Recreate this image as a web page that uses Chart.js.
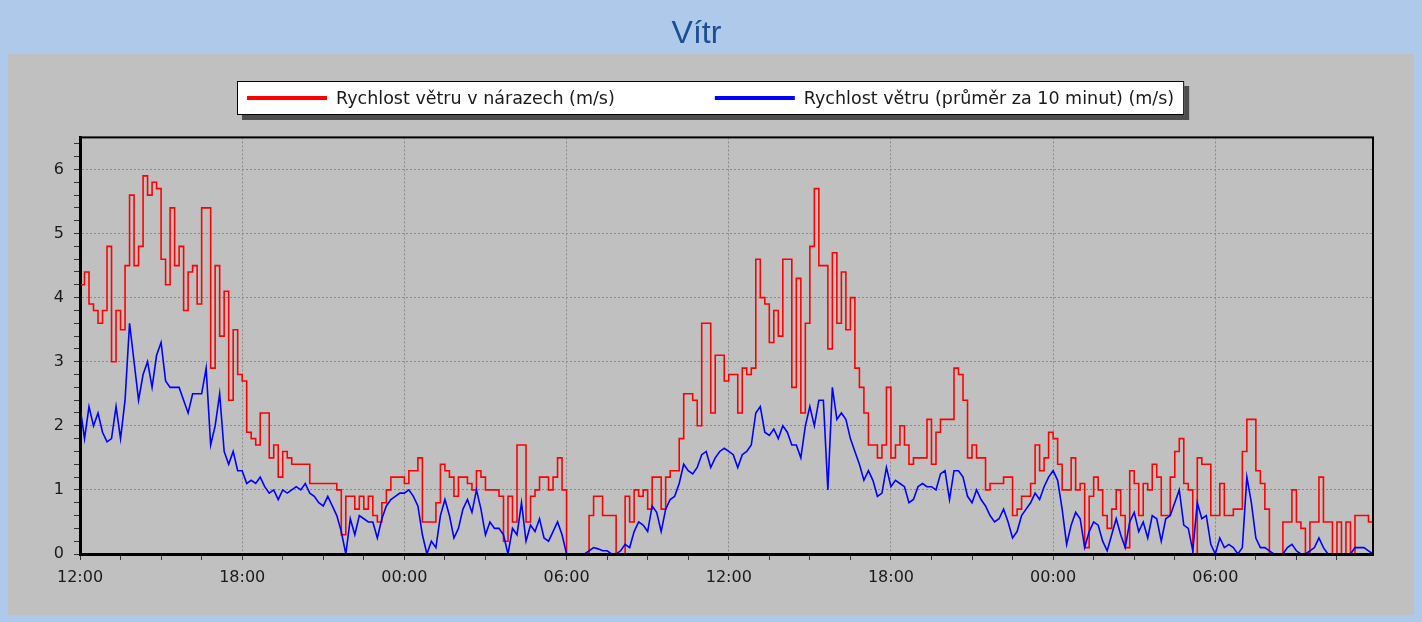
<!DOCTYPE html>
<html>
<head>
<meta charset="utf-8">
<title>Vítr</title>
<script src="https://cdn.jsdelivr.net/npm/chart.js@4.4.1/dist/chart.umd.min.js"></script>
<style>
  html, body { margin: 0; padding: 0; background: #aec9ea; }
  #wrap { width: 1422px; height: 622px; position: relative; }
</style>
</head>
<body>
<div id="wrap"><canvas id="windChart"></canvas></div>
<script>
// one value every 10 minutes, starting at 12:00
const stepMinutes = 10;
const gustLabel = "Rychlost větru v nárazech (m/s)";
const avgLabel = "Rychlost větru (průměr za 10 minut) (m/s)";
const xTickLabels = ["12:00", "18:00", "00:00", "06:00", "12:00", "18:00", "00:00", "06:00"];

const gusts = [
  4.2, 4.4, 3.9, 3.8, 3.6, 3.8,
  4.8, 3.0, 3.8, 3.5, 4.5, 5.6,
  4.5, 4.8, 5.9, 5.6, 5.8, 5.7,
  4.6, 4.2, 5.4, 4.5, 4.8, 3.8,
  4.4, 4.5, 3.9, 5.4, 5.4, 2.9,
  4.5, 3.4, 4.1, 2.4, 3.5, 2.8,
  2.7, 1.9, 1.8, 1.7, 2.2, 2.2,
  1.5, 1.7, 1.2, 1.6, 1.5, 1.4,
  1.4, 1.4, 1.4, 1.1, 1.1, 1.1,
  1.1, 1.1, 1.1, 1.0, 0.3, 0.9,
  0.9, 0.7, 0.9, 0.7, 0.9, 0.6,
  0.5, 0.8, 1.0, 1.2, 1.2, 1.2,
  1.1, 1.3, 1.3, 1.5, 0.5, 0.5,
  0.5, 0.8, 1.4, 1.3, 1.2, 0.9,
  1.2, 1.2, 1.1, 1.0, 1.3, 1.2,
  1.0, 1.0, 1.0, 0.9, 0.2, 0.9,
  0.5, 1.7, 1.7, 0.5, 0.9, 1.0,
  1.2, 1.2, 1.0, 1.2, 1.5, 1.0,
  0.0, 0.0, 0.0, 0.0, 0.0, 0.6,
  0.9, 0.9, 0.6, 0.6, 0.6, 0.0,
  0.0, 0.9, 0.5, 1.0, 0.9, 1.0,
  0.7, 1.2, 1.2, 0.7, 1.2, 1.3,
  1.3, 1.8, 2.5, 2.5, 2.4, 2.0,
  3.6, 3.6, 2.2, 3.1, 3.1, 2.7,
  2.8, 2.8, 2.2, 2.9, 2.8, 2.9,
  4.6, 4.0, 3.9, 3.3, 3.8, 3.4,
  4.6, 4.6, 2.6, 4.3, 2.2, 3.6,
  4.8, 5.7, 4.5, 4.5, 3.2, 4.7,
  3.6, 4.4, 3.5, 4.0, 2.9, 2.6,
  2.2, 1.7, 1.7, 1.5, 1.7, 2.6,
  1.5, 1.7, 2.0, 1.7, 1.4, 1.5,
  1.5, 1.5, 2.1, 1.4, 1.9, 2.1,
  2.1, 2.1, 2.9, 2.8, 2.4, 1.5,
  1.7, 1.5, 1.5, 1.0, 1.1, 1.1,
  1.1, 1.2, 1.2, 0.6, 0.7, 0.9,
  0.9, 1.1, 1.7, 1.3, 1.5, 1.9,
  1.8, 1.4, 1.0, 1.0, 1.5, 1.0,
  1.1, 0.1, 0.9, 1.2, 1.0, 0.6,
  0.4, 0.7, 1.0, 0.6, 0.1, 1.3,
  1.1, 0.6, 1.1, 1.0, 1.4, 1.2,
  0.6, 0.6, 1.2, 1.6, 1.8, 1.1,
  1.0, 0.0, 1.5, 1.4, 1.4, 0.6,
  0.6, 1.1, 0.6, 0.6, 0.7, 0.7,
  1.6, 2.1, 2.1, 1.3, 1.1, 0.7,
  0.0, 0.0, 0.0, 0.5, 0.5, 1.0,
  0.5, 0.4, 0.0, 0.5, 0.5, 1.2,
  0.5, 0.5, 0.0, 0.5, 0.0, 0.5,
  0.0, 0.6, 0.6, 0.6, 0.5, 0.4
];

const average = [
  2.3, 1.8, 2.3, 2.0, 2.2, 1.9,
  1.75, 1.8, 2.3, 1.8, 2.4, 3.6,
  3.0, 2.4, 2.8, 3.0, 2.6, 3.1,
  3.3, 2.7, 2.6, 2.6, 2.6, 2.4,
  2.2, 2.5, 2.5, 2.5, 2.9, 1.7,
  2.0, 2.5, 1.6, 1.4, 1.6, 1.3,
  1.3, 1.1, 1.15, 1.1, 1.2, 1.05,
  0.95, 1.0, 0.85, 1.0, 0.95, 1.0,
  1.05, 1.0, 1.1, 0.95, 0.9, 0.8,
  0.75, 0.9, 0.75, 0.6, 0.35, 0.0,
  0.55, 0.3, 0.6, 0.55, 0.5, 0.5,
  0.25, 0.55, 0.75, 0.85, 0.9, 0.95,
  0.95, 1.0, 0.9, 0.75, 0.3, 0.0,
  0.2, 0.1, 0.6, 0.85, 0.6, 0.25,
  0.4, 0.7, 0.85, 0.65, 1.0, 0.7,
  0.3, 0.5, 0.4, 0.4, 0.3, 0.0,
  0.4, 0.3, 0.8, 0.2, 0.45, 0.35,
  0.55, 0.25, 0.2, 0.35, 0.5, 0.3,
  0.0, 0.0, 0.0, 0.0, 0.0, 0.05,
  0.1, 0.08, 0.05, 0.05, 0.0, 0.0,
  0.05, 0.15, 0.1, 0.35, 0.5, 0.45,
  0.35, 0.75, 0.65, 0.35, 0.7, 0.85,
  0.9, 1.1, 1.4, 1.3, 1.25, 1.35,
  1.55, 1.6, 1.35, 1.5, 1.6, 1.65,
  1.6, 1.55, 1.35, 1.55, 1.6, 1.7,
  2.2, 2.3, 1.9, 1.85, 1.95, 1.8,
  2.0, 1.9, 1.7, 1.7, 1.5, 2.0,
  2.3, 2.0, 2.4, 2.4, 1.0, 2.6,
  2.1, 2.2, 2.1, 1.8, 1.6, 1.4,
  1.15, 1.3, 1.15, 0.9, 0.95, 1.35,
  1.05, 1.15, 1.1, 1.05, 0.8, 0.85,
  1.05, 1.1, 1.05, 1.05, 1.0, 1.25,
  1.3, 0.85, 1.3, 1.3, 1.2, 0.9,
  0.8, 1.0, 0.85, 0.75, 0.6, 0.5,
  0.55, 0.7, 0.5, 0.25, 0.35, 0.6,
  0.7, 0.8, 0.95, 0.85, 1.05, 1.2,
  1.3, 1.15, 0.7, 0.15, 0.45, 0.65,
  0.55, 0.1, 0.35, 0.5, 0.45, 0.2,
  0.05, 0.3, 0.55, 0.3, 0.1, 0.5,
  0.65, 0.35, 0.5, 0.25, 0.6, 0.55,
  0.2, 0.55, 0.6, 0.8, 1.0, 0.45,
  0.4, 0.05, 0.8, 0.55, 0.6, 0.15,
  0.0, 0.25, 0.1, 0.15, 0.1, 0.0,
  0.1, 1.2, 0.8, 0.25, 0.1, 0.1,
  0.05, 0.0, 0.0, 0.0, 0.1, 0.15,
  0.05, 0.0, 0.0, 0.05, 0.1, 0.25,
  0.1, 0.0, 0.0, 0.0, 0.0, 0.0,
  0.0, 0.1, 0.1, 0.1, 0.05, 0.0
];

const toPoints = arr => arr.map((v, i) => ({ x: i * stepMinutes, y: v }));
const isWhole = v => Math.abs(v - Math.round(v)) < 1e-6;

// gray panel behind the chart
const panel = {
  id: "panel",
  beforeDraw(chart) {
    const c = chart.ctx;
    c.save();
    c.fillStyle = "#c0c0c0";
    c.fillRect(8, 54, chart.width - 16, 561);
    c.restore();
  }
};

// plot frame + boxed legend with shadow
const frameAndLegend = {
  id: "frameAndLegend",
  afterDraw(chart) {
    const c = chart.ctx;
    const a = chart.chartArea;
    c.save();
    c.strokeStyle = "#000";
    c.lineWidth = 2;
    c.strokeRect(a.left, a.top, a.right - a.left, a.bottom - a.top);

    const sets = chart.data.datasets;
    c.font = "17.5px 'DejaVu Sans'";
    const sample = 80, gap = 9, pad = 10, between = 100, h = 34, top = 81;
    const widths = sets.map(d => c.measureText(d.label).width);
    const total = pad * 2 + sets.length * (sample + gap) + widths.reduce((s, w) => s + w, 0) + between * (sets.length - 1);
    const left = Math.round((chart.width - total) / 2);
    c.fillStyle = "rgba(0,0,0,0.6)";
    c.fillRect(left + 5, top + 5, total, h);
    c.fillStyle = "#fff";
    c.fillRect(left, top, total, h);
    c.lineWidth = 1;
    c.strokeRect(left + 0.5, top + 0.5, total - 1, h - 1);
    let x = left + pad;
    const cy = top + h / 2;
    sets.forEach((d, i) => {
      c.strokeStyle = d.borderColor;
      c.lineWidth = 4;
      c.beginPath();
      c.moveTo(x, cy);
      c.lineTo(x + sample, cy);
      c.stroke();
      x += sample + gap;
      c.fillStyle = "#1a1a1a";
      c.textBaseline = "middle";
      c.fillText(d.label, x, cy + 1);
      x += widths[i] + between;
    });
    c.restore();
  }
};

new Chart(document.getElementById("windChart"), {
  type: "line",
  data: {
    datasets: [
      {
        label: gustLabel,
        data: toPoints(gusts),
        borderColor: "#ff0000",
        borderWidth: 1.6,
        stepped: true,
        pointRadius: 0,
        order: 1
      },
      {
        label: avgLabel,
        data: toPoints(average),
        borderColor: "#0000ff",
        borderWidth: 1.6,
        pointRadius: 0,
        order: 0
      }
    ]
  },
  options: {
    responsive: true,
    maintainAspectRatio: false,
    animation: false,
    layout: { padding: { top: 0, left: 20, right: 49, bottom: 20 } },
    plugins: {
      legend: { display: false },
      tooltip: { enabled: false },
      title: {
        display: true,
        text: "Vítr",
        color: "#1b4f94",
        font: { family: "'Liberation Sans', sans-serif", size: 32, weight: "normal" },
        padding: { top: 15, bottom: 84 }
      }
    },
    scales: {
      x: {
        type: "linear",
        min: 0,
        max: (gusts.length - 1) * stepMinutes,
        afterFit: s => { s.height = 48; },
        ticks: {
          stepSize: 90,
          includeBounds: false,
          autoSkip: false,
          maxRotation: 0,
          padding: 8,
          color: "#1a1a1a",
          font: { family: "'DejaVu Sans', sans-serif", size: 16 },
          callback: v => (v % 360 === 0 ? xTickLabels[v / 360] : "")
        },
        grid: {
          color: c => (c.tick && c.tick.value % 360 === 0 ? "#8a8a8a" : "rgba(0,0,0,0)"),
          tickColor: "#333",
          tickLength: 6
        },
        border: { color: "#000", width: 3, dash: [2, 2] }
      },
      y: {
        min: 0,
        max: 6.5,
        afterFit: s => { s.width = 60; },
        ticks: {
          stepSize: 0.2,
          includeBounds: false,
          autoSkip: false,
          padding: 10,
          color: "#1a1a1a",
          font: { family: "'DejaVu Sans', sans-serif", size: 16 },
          callback: v => (isWhole(v) ? Math.round(v) : "")
        },
        grid: {
          color: c => (c.tick && isWhole(c.tick.value) ? "#8a8a8a" : "rgba(0,0,0,0)"),
          tickColor: "#333",
          tickLength: 6
        },
        border: { color: "#000", width: 3, dash: [2, 2] }
      }
    }
  },
  plugins: [panel, frameAndLegend]
});
</script>
</body>
</html>
